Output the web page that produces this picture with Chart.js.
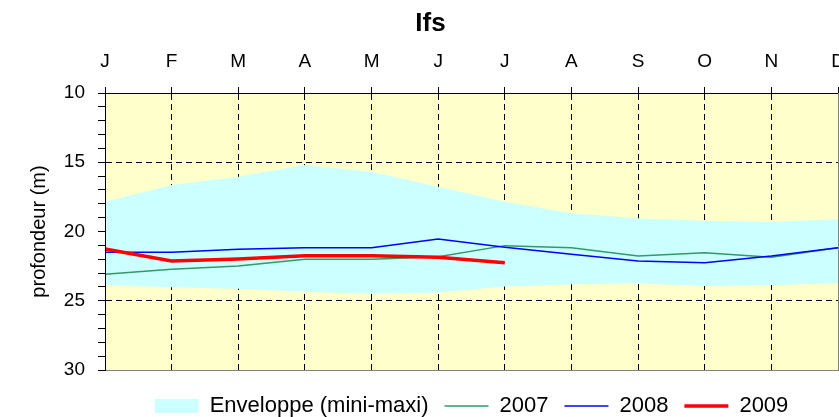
<!DOCTYPE html>
<html>
<head>
<meta charset="utf-8">
<title>Ifs</title>
<script src="https://cdn.jsdelivr.net/npm/chart.js@4.4.1/dist/chart.umd.min.js"></script>
<style>
  html, body { margin: 0; padding: 0; background: #fff; }
  #wrap { width: 839px; height: 417px; }
</style>
</head>
<body>
<div id="wrap"><canvas id="chartjs-0" width="839" height="417"></canvas></div>
<script>
var mois = ['J', 'F', 'M', 'A', 'M', 'J', 'J', 'A', 'S', 'O', 'N', 'D'];

// enveloppe mini-maxi (profondeur en m)
var enveloppeMini = [17.85, 16.64, 16.04, 15.2, 15.68, 16.76, 17.85, 18.69, 19.05, 19.22, 19.29, 19.12];
var enveloppeMaxi = [23.86, 24.03, 24.13, 24.35, 24.49, 24.4, 23.98, 23.81, 23.74, 23.94, 23.86, 23.74];

var annee2007 = [23.09, 22.73, 22.49, 22.01, 22.01, 21.82, 21.02, 21.17, 21.77, 21.53, 21.86, 21.17];
var annee2008 = [21.5, 21.5, 21.29, 21.17, 21.17, 20.54, 21.14, 21.65, 22.13, 22.25, 21.77, 21.17];
var annee2009 = [21.26, 22.13, 21.99, 21.75, 21.75, 21.86, 22.25, null, null, null, null, null];

var yTicks = [10, 15, 20, 25, 30];

var cyan = '#CCFFFF';
var vert = '#339966';
var bleu = '#0000FF';
var rouge = '#FF0000';
var police = '"Liberation Sans", Arial, sans-serif';

// fond jaune de la zone de tracé
var fondPlugin = {
    id: 'fond',
    beforeDraw: function (chart) {
        var a = chart.chartArea;
        var ctx = chart.ctx;
        ctx.save();
        ctx.fillStyle = '#FFFFCC';
        ctx.fillRect(a.left, a.top, a.right - a.left, a.bottom - a.top);
        ctx.restore();
    }
};

var ctx = document.getElementById('chartjs-0');
var myChart = new Chart(ctx, {
    type: 'line',
    data: {
        labels: mois,
        datasets: [{
            label: 'mini',
            data: enveloppeMini,
            borderWidth: 0,
            borderColor: cyan,
            pointRadius: 0,
            fill: false,
            order: 10
        }, {
            label: 'Enveloppe (mini-maxi)',
            data: enveloppeMaxi,
            borderWidth: 0,
            borderColor: cyan,
            backgroundColor: cyan,
            pointRadius: 0,
            fill: '-1',
            order: 9
        }, {
            label: '2007',
            data: annee2007,
            borderColor: vert,
            borderWidth: 1.5,
            pointRadius: 0,
            fill: false,
            tension: 0,
            order: 3
        }, {
            label: '2008',
            data: annee2008,
            borderColor: bleu,
            borderWidth: 1.5,
            pointRadius: 0,
            fill: false,
            tension: 0,
            order: 2
        }, {
            label: '2009',
            data: annee2009,
            borderColor: rouge,
            borderWidth: 3.5,
            pointRadius: 0,
            fill: false,
            tension: 0,
            order: 1
        }]
    },
    options: {
        responsive: false,
        animation: false,
        maintainAspectRatio: false,
        layout: { padding: { left: 23, right: 1, top: 0, bottom: 0 } },
        plugins: {
            title: {
                display: true,
                text: 'Ifs',
                color: '#000',
                font: { family: police, size: 26, weight: 'bold' },
                padding: { top: 8, bottom: 0 }
            },
            legend: {
                position: 'bottom',
                fullSize: false,
                maxHeight: 38,
                onClick: null,
                labels: {
                    usePointStyle: true,
                    pointStyleWidth: 44,
                    boxHeight: 14,
                    padding: 16,
                    color: '#000',
                    font: { family: police, size: 22 },
                    generateLabels: function () {
                        return [
                            { text: 'Enveloppe (mini-maxi)', fillStyle: cyan, strokeStyle: cyan, lineWidth: 0, pointStyle: 'rect', hidden: false, datasetIndex: 1 },
                            { text: '2007', fillStyle: vert, strokeStyle: vert, lineWidth: 1.5, pointStyle: 'line', hidden: false, datasetIndex: 2 },
                            { text: '2008', fillStyle: bleu, strokeStyle: bleu, lineWidth: 1.5, pointStyle: 'line', hidden: false, datasetIndex: 3 },
                            { text: '2009', fillStyle: rouge, strokeStyle: rouge, lineWidth: 3.5, pointStyle: 'line', hidden: false, datasetIndex: 4 }
                        ];
                    }
                }
            },
            tooltip: { enabled: false }
        },
        scales: {
            x: {
                type: 'category',
                position: 'top',
                offset: false,
                afterFit: function (s) {
                    s.height = 53.8;
                    s.paddingLeft = 0;
                    s.paddingRight = 0;
                },
                grid: {
                    color: function (c) {
                        return (c.index === 0 || c.index === mois.length - 1) ? 'transparent' : '#000';
                    },
                    lineWidth: 1,
                    tickColor: '#000',
                    tickLength: 6
                },
                border: { display: true, color: '#000', width: 1, dash: [6, 4], z: 1 },
                ticks: {
                    autoSkip: false,
                    maxRotation: 0,
                    padding: 14,
                    color: '#000',
                    font: { family: police, size: 19 }
                }
            },
            x2: {
                type: 'category',
                position: 'bottom',
                afterFit: function (s) { s.height = 9; },
                grid: { display: false },
                ticks: { display: false },
                border: { display: true, color: '#808080', width: 1, z: 1 }
            },
            y: {
                type: 'linear',
                position: 'left',
                reverse: true,
                min: 10,
                max: 30,
                afterFit: function (s) { s.width = 82; },
                title: {
                    display: true,
                    text: 'profondeur (m)',
                    color: '#000',
                    font: { family: police, size: 20 },
                    padding: { top: 4, bottom: 0 }
                },
                grid: {
                    color: function (c) {
                        var v = c.tick.value;
                        return (yTicks.indexOf(v) > 0 && yTicks.indexOf(v) < yTicks.length - 1) ? '#000' : 'transparent';
                    },
                    lineWidth: 1,
                    tickColor: '#000',
                    tickLength: 7
                },
                border: { display: true, color: '#000', width: 1, dash: [6, 4], z: 1 },
                ticks: {
                    stepSize: 1,
                    autoSkip: false,
                    maxTicksLimit: 30,
                    padding: 13,
                    color: '#000',
                    font: { family: police, size: 19 },
                    callback: function (v) {
                        return yTicks.indexOf(v) >= 0 ? String(v) : '';
                    }
                }
            },
            y2: {
                type: 'linear',
                position: 'right',
                afterFit: function (s) { s.width = 0; },
                grid: { display: false },
                ticks: { display: false },
                border: { display: true, color: '#808080', width: 1, z: 1 }
            }
        }
    },
    plugins: [fondPlugin]
});
</script>
</body>
</html>
